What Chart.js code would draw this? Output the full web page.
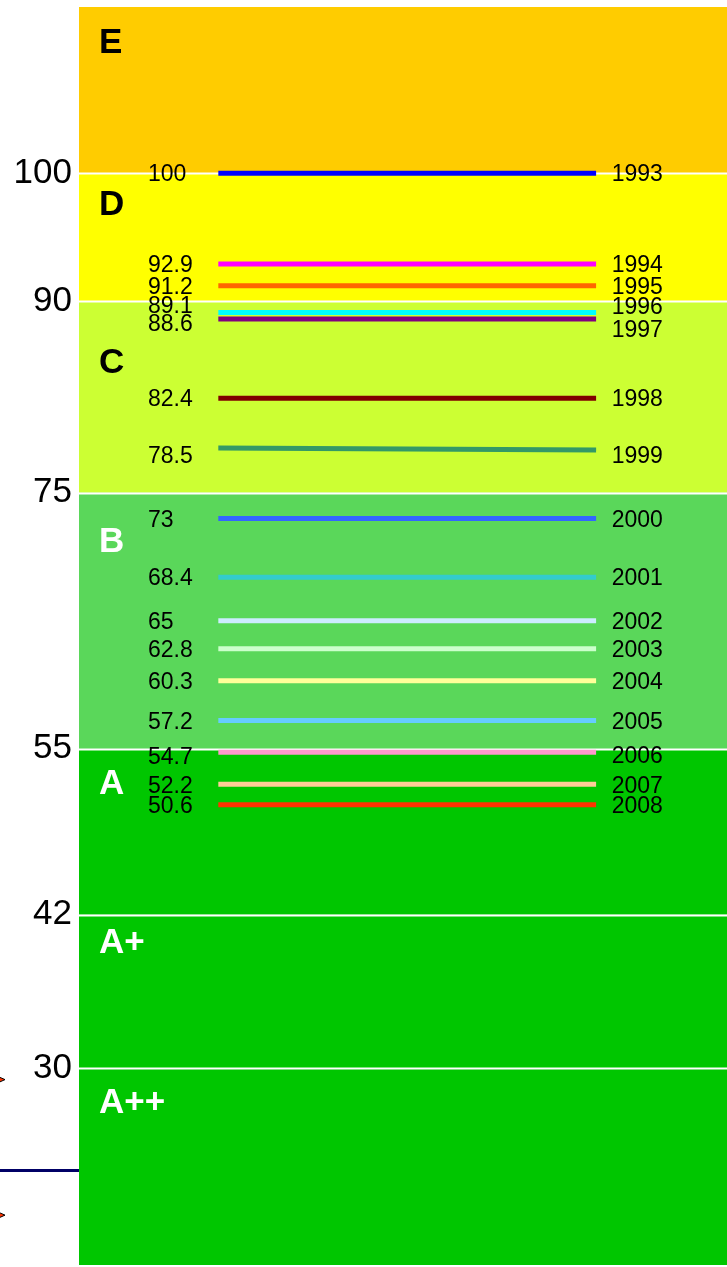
<!DOCTYPE html>
<html>
<head>
<meta charset="UTF-8">
<title>Klassen</title>
<script src="https://cdn.jsdelivr.net/npm/chart.js"></script>
<style>
  html, body { margin: 0; padding: 0; background: #ffffff; }
  #wrap { width: 727px; height: 1267px; position: relative; }
</style>
</head>
<body>
<div id="wrap"><canvas id="chart"></canvas></div>
<script>
// --- data ---
const years = ['1993','1994','1995','1996','1997','1998','1999','2000','2001','2002','2003','2004','2005','2006','2007','2008'];
const values = [100, 92.9, 91.2, 89.1, 88.6, 82.4, 78.5, 73, 68.4, 65, 62.8, 60.3, 57.2, 54.7, 52.2, 50.6];
const endValues = [100, 92.9, 91.2, 89.1, 88.6, 82.4, 78.35, 73, 68.4, 65, 62.8, 60.3, 57.2, 54.7, 52.2, 50.6];
const tickValues = [100, 90, 75, 55, 42, 30];
const bandNames = ['E', 'D', 'C', 'B', 'A', 'A+', 'A++'];
const bandEdges = [113, 100, 90, 75, 55, 42, 30, 14.6];

// --- styles ---
const lineColors = ['#0000ff','#ff00ff','#ff6600','#00ffff','#800080','#800000','#339966','#3366ff',
                    '#33cccc','#ccecff','#ccffcc','#ffff99','#66ccff','#ff99cc','#ffcc99','#ff3300'];
const bandColors = ['#ffcc00','#ffff00','#ccff33','#5ad75a','#00c600','#00c600','#00c600'];
const bandTextColors = ['#000','#000','#000','#fff','#fff','#fff','#fff'];
const bandLabelOffset = [33, 29, 59, 47, 33, 26, 32];
// kleine Verschiebungen, damit sich Beschriftungen nicht überlappen
const leftNudge = {3: -8, 4: 4, 6: 7, 13: 3};
const rightNudge = {3: -7, 4: 10, 6: 7, 13: 2};
const FONT = '"Liberation Sans", Arial, sans-serif';

const datasets = years.map((y, i) => ({
  label: y,
  data: [{x: 0.215, y: values[i]}, {x: 0.798, y: endValues[i]}],
  borderColor: lineColors[i],
  borderWidth: 5,
  pointRadius: 0,
  borderCapStyle: 'butt',
  tension: 0
}));

// Farbbänder hinter den Linien
const bandsPlugin = {
  id: 'bands',
  beforeDatasetsDraw(chart) {
    const {ctx, chartArea: a, scales: {y}} = chart;
    ctx.save();
    for (let i = 0; i < bandNames.length; i++) {
      const top = y.getPixelForValue(bandEdges[i]);
      const bot = y.getPixelForValue(bandEdges[i + 1]);
      ctx.fillStyle = bandColors[i];
      ctx.fillRect(a.left, top, a.right - a.left, bot - top);
    }
    ctx.strokeStyle = '#ffffff';
    ctx.lineWidth = 2;
    tickValues.forEach(v => {
      const py = Math.round(y.getPixelForValue(v)) + 0.5;
      ctx.beginPath();
      ctx.moveTo(a.left, py);
      ctx.lineTo(a.right, py);
      ctx.stroke();
    });
    // Band-Buchstaben
    ctx.font = 'bold 35px ' + FONT;
    ctx.textAlign = 'left';
    ctx.textBaseline = 'alphabetic';
    for (let i = 0; i < bandNames.length; i++) {
      const top = y.getPixelForValue(bandEdges[i]);
      ctx.fillStyle = bandTextColors[i];
      ctx.fillText(bandNames[i], a.left + 20, top + bandLabelOffset[i] + 12.5);
    }
    // Reste links unten
    const ny = y.getPixelForValue(22);
    ctx.strokeStyle = '#000066';
    ctx.lineWidth = 3;
    ctx.beginPath();
    ctx.moveTo(0, ny);
    ctx.lineTo(a.left, ny);
    ctx.stroke();
    [29.1, 18.5].forEach(v => {
      const py = y.getPixelForValue(v);
      ctx.fillStyle = '#ff3300';
      ctx.strokeStyle = '#000';
      ctx.lineWidth = 1;
      ctx.beginPath();
      ctx.moveTo(-4, py - 4);
      ctx.lineTo(5, py);
      ctx.lineTo(-4, py + 4);
      ctx.closePath();
      ctx.fill();
      ctx.stroke();
    });
    ctx.restore();
  }
};

// Werte links, Jahre rechts
const labelsPlugin = {
  id: 'lineLabels',
  afterDatasetsDraw(chart) {
    const {ctx, scales: {x, y}} = chart;
    ctx.save();
    ctx.font = '23px ' + FONT;
    ctx.fillStyle = '#000';
    ctx.textBaseline = 'alphabetic';
    ctx.textAlign = 'left';
    values.forEach((v, i) => {
      const py = y.getPixelForValue(v);
      ctx.fillText(String(v), x.getPixelForValue(0.1065), py + (leftNudge[i] || 0) + 8.2);
      ctx.fillText(years[i], x.getPixelForValue(0.822), py + (rightNudge[i] || 0) + 8.2);
    });
    ctx.restore();
  }
};

new Chart(document.getElementById('chart'), {
  type: 'line',
  data: { datasets },
  options: {
    responsive: true,
    maintainAspectRatio: false,
    animation: false,
    layout: { padding: { top: 7, bottom: 2, left: 0, right: 0 } },
    plugins: { legend: { display: false }, tooltip: { enabled: false } },
    scales: {
      x: { type: 'linear', min: 0, max: 1, display: false },
      y: {
        type: 'linear',
        min: 14.6,
        max: 113,
        afterBuildTicks: s => { s.ticks = tickValues.map(v => ({ value: v })); },
        afterFit: s => { s.width = 79; s.paddingTop = 0; s.paddingBottom = 0; },
        grid: { display: false, drawTicks: false },
        border: { display: false },
        ticks: {
          padding: 7,
          color: '#000',
          font: { family: FONT, size: 35 },
          autoSkip: false
        }
      }
    }
  },
  plugins: [bandsPlugin, labelsPlugin]
});
</script>
</body>
</html>
